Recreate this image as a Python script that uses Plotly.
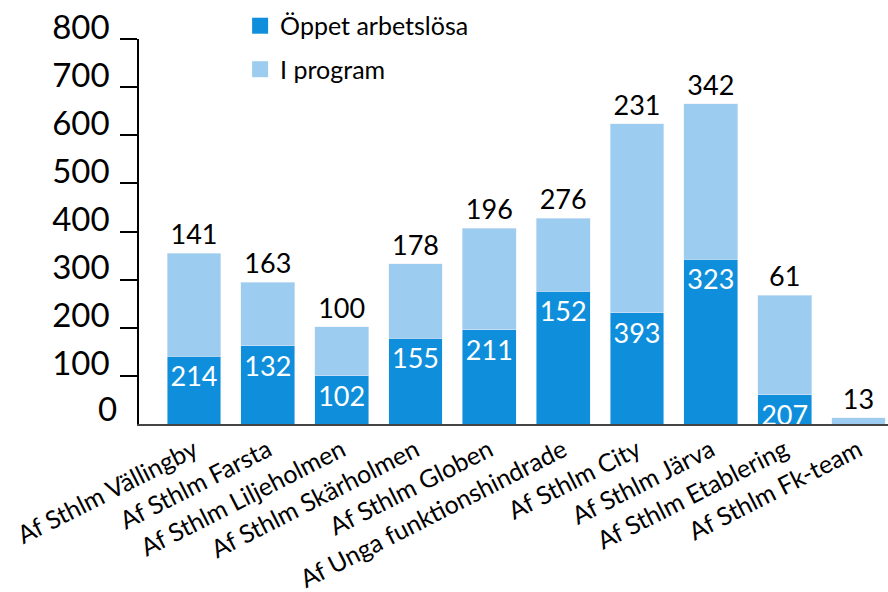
import plotly.graph_objects as go

categories = ["Af Sthlm Vällingby", "Af Sthlm Farsta", "Af Sthlm Liljeholmen",
              "Af Sthlm Skärholmen", "Af Sthlm Globen", "Af Unga funktionshindrade",
              "Af Sthlm City", "Af Sthlm Järva", "Af Sthlm Etablering", "Af Sthlm Fk-team"]
oppet = [141, 163, 100, 178, 196, 276, 231, 342, 61, 0]
program = [214, 132, 102, 155, 211, 152, 393, 323, 207, 13]
inner_labels = ["214", "132", "102", "155", "211", "152", "393", "323", "207", ""]
top_labels = ["141", "163", "100", "178", "196", "276", "231", "342", "61", "13"]
y_ticks = [100, 200, 300, 400, 500, 600, 700, 800]

DARK = "#0f8fdb"
LIGHT = "#9ccdf0"
FONT = "Lato"

fig = go.Figure()
fig.add_trace(go.Bar(
    x=categories, y=oppet, name="Öppet arbetslösa", marker_color=DARK,
    text=inner_labels, textposition="inside", insidetextanchor="end",
    textangle=0, textfont=dict(color="white", size=27, family=FONT),
    showlegend=False))
fig.add_trace(go.Bar(
    x=categories, y=program, name="I program", marker_color=LIGHT,
    text=top_labels, textposition="outside", textangle=0,
    textfont=dict(color="black", size=27, family=FONT), cliponaxis=False,
    showlegend=False))

# legend entries with larger square symbols
for nm, col, grp in [("Öppet arbetslösa", DARK, "a"), ("I program", LIGHT, "b")]:
    fig.add_trace(go.Scatter(x=[None], y=[None], mode="markers", name=nm,
                             marker=dict(symbol="square", size=18, color=col),
                             legendgroup=grp, showlegend=True))

fig.add_annotation(text="0", xref="paper", yref="y", x=0, y=0,
                   xanchor="right", yanchor="bottom", xshift=-20, yshift=-6,
                   showarrow=False, font=dict(size=33, family=FONT, color="black"))

fig.update_layout(
    width=888, height=592, barmode="stack", bargap=0.27,
    margin=dict(l=139, r=0, t=39, b=168, autoexpand=False),
    plot_bgcolor="white", paper_bgcolor="white",
    font=dict(family=FONT, color="black"),
    uniformtext=dict(mode="show", minsize=20),
    legend=dict(x=0.135, xanchor="left", y=0.995, yanchor="top", yref="container",
                traceorder="grouped", tracegroupgap=8, itemsizing="trace",
                font=dict(size=25, family=FONT), bgcolor="rgba(0,0,0,0)"),
    xaxis=dict(range=[-0.745, 9.4], showline=True, linecolor="#444", linewidth=2,
               ticks="", tickangle=-27, automargin=False,
               tickfont=dict(size=25, family=FONT)),
    yaxis=dict(range=[0, 800], tickvals=y_ticks, showgrid=False, zeroline=False,
               showline=True, linecolor="black", linewidth=1.5, automargin=False,
               ticks="outside", ticklen=17, tickwidth=1.5, tickcolor="black",
               ticklabelstandoff=4, ticklabelshift=-12,
               tickfont=dict(size=33, family=FONT)),
)

fig.write_html("out.html", config={"displayModeBar": False},
               post_script="document.body.style.margin='0';document.body.style.overflow='hidden';")
